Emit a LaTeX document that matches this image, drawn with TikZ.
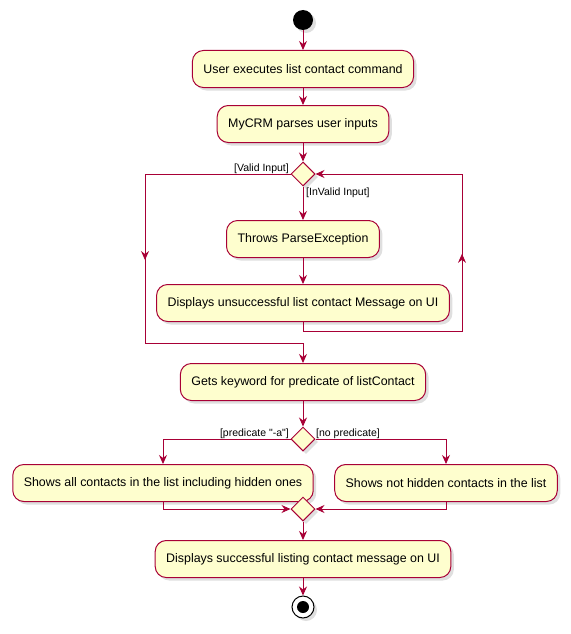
\documentclass[tikz,border=0pt]{standalone}
\usepackage{fontspec}
\setmainfont{Liberation Sans}[Ligatures=TeXOff]
\usepackage{tikz}
\usetikzlibrary{positioning,decorations.markings}
\usetikzlibrary{arrows.meta,shapes.geometric,shadows}
\definecolor{umlred}{HTML}{A80036}
\definecolor{umlfill}{HTML}{FEFECE}

\begin{document}
\begin{tikzpicture}[x=1pt,y=-1pt,>={Stealth[length=9pt,width=8pt,inset=3pt]},
	act/.style={rectangle,rounded corners=11pt,draw=umlred,fill=umlfill,line width=1pt,minimum height=37pt,inner xsep=11pt,font=\fontsize{12.4}{14}\selectfont,drop shadow={shadow xshift=3pt,shadow yshift=-3pt,opacity=0.25}},
	choice/.style={diamond,draw=umlred,fill=umlfill,line width=1pt,minimum width=24pt,minimum height=24pt,inner sep=0pt,drop shadow={shadow xshift=3pt,shadow yshift=-3pt,opacity=0.25}},
	guard/.style={font=\fontsize{10.5}{12}\selectfont,inner sep=1pt},
	flow/.style={draw=umlred,line width=0.9pt},
	midarrow/.style={postaction={decorate,decoration={markings,mark=at position #1 with {\arrow{>}}}}},
	]
	\useasboundingbox (0,0) rectangle (570,634);

	\node[circle,fill=black,minimum size=20pt,inner sep=0pt,drop shadow={shadow xshift=3pt,shadow yshift=-3pt,opacity=0.25}] (start) at (303,20) {};
	\node[act] (exec) at (303,69) {User executes list contact command};
	\node[act] (parse) at (303,124) {MyCRM parses user inputs};
	\node[choice] (valid) at (303,174) {};
	\node[act] (throw) at (303,239) {Throws ParseException};
	\node[act] (fail) at (303,303) {Displays unsuccessful list contact Message on UI};
	\node[act] (keyword) at (303,382) {Gets keyword for predicate of listContact};
	\node[choice] (pred) at (303,439) {};
	\node[act] (all) at (163,483) {Shows all contacts in the list including hidden ones};
	\node[act] (shown) at (446,483) {Shows not hidden contacts in the list};
	\node[choice] (merge) at (303,509) {};
	\node[act] (done) at (303,559) {Displays successful listing contact message on UI};
	\node[circle,draw=black,fill=white,line width=1pt,minimum size=22pt,inner sep=0pt,drop shadow={shadow xshift=3pt,shadow yshift=-3pt,opacity=0.25}] (stop) at (303,607) {};
	\node[circle,fill=black,minimum size=12pt,inner sep=0pt] (stopdot) at (stop) {};

	% helper corners of the loops
	\coordinate (vl1) at (145,174);
	\coordinate (vl2) at (145,343);
	\coordinate (vl3) at (303,343);
	\coordinate (rl1) at (303,331);
	\coordinate (rl2) at (462,331);
	\coordinate (rl3) at (462,174);
	\coordinate (pl) at (163,439);
	\coordinate (pr) at (446,439);
	\coordinate (ml) at (163,509);
	\coordinate (mr) at (446,509);

	\draw[->,flow] (start) -- (exec);
	\draw[->,flow] (exec) -- (parse);
	\draw[->,flow] (parse) -- (valid);
	\draw[flow,midarrow=0.49] (valid.west) -- (vl1) -- (vl2) -- (vl3);
	\draw[->,flow] (vl3) -- (keyword);
	\draw[->,flow] (valid) -- (throw);
	\draw[->,flow] (throw) -- (fail);
	\draw[->,flow,midarrow=0.52] (fail.south) -- (rl1) -- (rl2) -- (rl3) -- (valid.east);
	\draw[->,flow] (keyword) -- (pred);
	\draw[->,flow] (pred.west) -- (pl) -- (all.north);
	\draw[->,flow] (pred.east) -- (pr) -- (shown.north);
	\draw[->,flow] (all.south) -- (ml) -- (merge.west);
	\draw[->,flow] (shown.south) -- (mr) -- (merge.east);
	\draw[->,flow] (merge) -- (done);
	\draw[->,flow] (done) -- (stop);

	\node[guard,anchor=south east] (lvalid) at (290,175) {[Valid Input]};
	\node[guard,anchor=north west] (linvalid) at (305,187) {[InValid Input]};
	\node[guard,anchor=south east] (lpred) at (290,440) {[predicate "-a"]};
	\node[guard,anchor=south west] (lnopred) at (315,440) {[no predicate]};

\end{tikzpicture}
\end{document}
